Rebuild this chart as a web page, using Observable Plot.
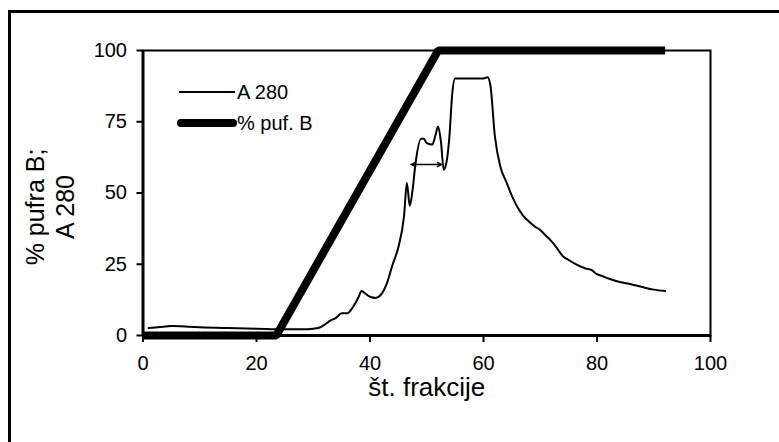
<!DOCTYPE html>
<html>
<head>
<meta charset="utf-8">
<script src="https://cdn.jsdelivr.net/npm/d3@7"></script>
<script src="https://cdn.jsdelivr.net/npm/@observablehq/plot@0.6"></script>
<style>
  html, body { margin: 0; padding: 0; background: #fff; }
  body { width: 779px; height: 442px; position: relative; overflow: hidden; font-family: "Liberation Sans", Arial, sans-serif; }
  #border { position: absolute; left: 8px; top: 10px; width: 800px; height: 500px; border-top: 3px solid #000; border-left: 3px solid #000; box-sizing: border-box; pointer-events: none; }
  #chart { position: absolute; left: 0; top: 0; }
  #legend { position: absolute; left: 0; top: 0; width: 779px; height: 442px; pointer-events: none; }
</style>
</head>
<body>
<div id="border"></div>
<div id="chart"></div>
<svg id="legend" width="779" height="442"></svg>
<script>
// ---- data ----
const a280Fraction = [1, 3, 5, 8, 10, 15, 20, 25, 28, 30, 31, 32, 33, 34, 35, 36, 37, 38, 38.5, 39, 40, 41, 42, 43, 44, 45, 46, 46.5, 47, 47.5, 48, 49, 49.5, 50, 51, 51.5, 52, 52.5, 53, 53.5, 54, 54.5, 55, 56, 58, 60, 60.7, 61.2, 62, 63, 64, 65, 66, 67, 68, 69, 70, 71, 72, 73, 74, 75, 76, 77, 78, 79, 80, 81, 82, 84, 86, 88, 90, 92];
const a280Value    = [2.6, 3.0, 3.3, 3.1, 2.9, 2.6, 2.4, 2.2, 2.2, 2.4, 2.7, 3.8, 5.2, 6.2, 7.8, 7.8, 10, 13.5, 15.6, 15, 13.6, 13.2, 14.5, 18.5, 25, 31, 42, 53.5, 45.5, 51, 60, 69, 69, 67.5, 67, 70, 73.3, 68, 58.2, 61, 70, 85, 90.2, 90.2, 90.2, 90.2, 90.6, 88, 70, 59, 54, 49, 45, 42, 40, 38.3, 37, 35, 33, 30.5, 27.8, 26.5, 25.3, 24.3, 23.5, 23, 21.5, 20.8, 20, 18.8, 18, 17, 16.1, 15.6];
const bufferFraction = [0, 23.5, 52, 92];
const bufferValue    = [0, 0, 100, 100];
const arrowFractions = [47.2, 52.7];
const arrowLevel = 60;
const xTicks = [0, 20, 40, 60, 80, 100];
const yTicks = [0, 25, 50, 75, 100];
const legendLabels = ["A 280", "% puf. B"];

const a280 = a280Fraction.map((x, i) => ({x, y: a280Value[i]}));
const buffer = bufferFraction.map((x, i) => ({x, y: bufferValue[i]}));
const mid = (arrowFractions[0] + arrowFractions[1]) / 2;
const arrows = arrowFractions.map(x => ({x1: mid, x2: x, y: arrowLevel}));

const plot = Plot.plot({
  width: 779,
  height: 442,
  marginLeft: 142.5,
  marginRight: 69,
  marginTop: 50,
  marginBottom: 107,
  style: {fontFamily: "'Liberation Sans', Arial, sans-serif", background: "transparent", color: "#000"},
  x: {domain: [0, 100]},
  y: {domain: [0, 100]},
  marks: [
    Plot.frame({stroke: "#000", strokeWidth: 2}),
    Plot.axisX({ticks: xTicks, tickSize: 7, tickPadding: 13, fontSize: 20, strokeWidth: 2, label: null}),
    Plot.axisY({ticks: yTicks, tickSize: 6, tickPadding: 10, fontSize: 20, strokeWidth: 2, label: null}),
    Plot.ruleY([0], {stroke: "#000", strokeWidth: 3}),
    Plot.ruleX([0], {stroke: "#000", strokeWidth: 3}),
    Plot.line(a280, {x: "x", y: "y", stroke: "#000", strokeWidth: 2, curve: "monotone-x"}),
    Plot.line(buffer, {x: "x", y: "y", stroke: "#000", strokeWidth: 8, strokeLinecap: "butt", strokeLinejoin: "miter"}),
    Plot.arrow(arrows, {x1: "x1", x2: "x2", y1: "y", y2: "y", stroke: "#000", strokeWidth: 1.3, headLength: 7, headAngle: 50}),
    Plot.text(["št. frakcije"], {frameAnchor: "bottom", dy: 52, fontSize: 26, lineAnchor: "middle", fill: "#000"}),
    Plot.text(["% pufra B;\nA 280"], {frameAnchor: "left", dx: -94, dy: 14, rotate: -90, fontSize: 25, lineHeight: 1.2, lineAnchor: "middle", textAnchor: "middle", fill: "#000"})
  ]
});
document.getElementById("chart").appendChild(plot);

// legend (layout overlay)
const lg = d3.select("#legend");
lg.append("line").attr("x1", 179).attr("x2", 235).attr("y1", 92).attr("y2", 92).attr("stroke", "#000").attr("stroke-width", 2);
lg.append("line").attr("x1", 181).attr("x2", 233).attr("y1", 123).attr("y2", 123).attr("stroke", "#000").attr("stroke-width", 8).attr("stroke-linecap", "round");
legendLabels.forEach((t, i) => {
  lg.append("text").attr("x", 237).attr("y", [92, 123][i]).attr("dy", "0.36em")
    .attr("font-family", "'Liberation Sans', Arial, sans-serif").attr("font-size", 20).attr("fill", "#000").text(t);
});
</script>
</body>
</html>
